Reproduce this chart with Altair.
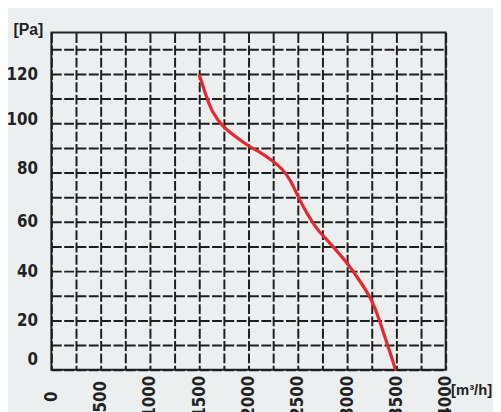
import altair as alt
import pandas as pd

# Fan curve
flow = [1500, 1580, 1630, 1730, 1863, 2000, 2130, 2247, 2347, 2430, 2497, 2563,
        2647, 2697, 2813, 3000, 3113, 3247, 3330, 3397, 3453, 3490]
pressure = [120, 110, 104.8, 99, 94.8, 90.8, 88.1, 84.8, 81.5, 76.8, 70.8, 65.5,
            60, 57, 52, 43.5, 37, 29, 20, 11.5, 5, 0]

x_ticks = [0, 250, 500, 750, 1000, 1250, 1500, 1750, 2000, 2250, 2500, 2750,
           3000, 3250, 3500, 3750, 4000]
y_ticks = [0, 10, 20, 30, 40, 50, 60, 70, 80, 90, 100, 110, 120, 130]

df = pd.DataFrame({"flow": flow, "pressure": pressure})

FONT = "DejaVu Sans Condensed, Liberation Sans, sans-serif"
TFONT = "Liberation Sans, Arial, sans-serif"
GRID = "#1e1e1e"
TXT = "#222222"

line = alt.Chart(df).mark_line(
    color="#e8262b", strokeWidth=3.2, interpolate="basis"
).encode(
    x=alt.X(
        "flow:Q",
        scale=alt.Scale(domain=[0, 4000], nice=False, zero=False),
        axis=alt.Axis(
            values=x_ticks,
            format="d",
            labelExpr="datum.value % 500 == 0 ? datum.label : ''",
            labelAngle=-90,
            labelAlign="center",
            labelBaseline="middle",
            labelPadding=27,
            labelFont=FONT,
            labelFontSize=17,
            labelFontWeight="bold",
            labelColor=TXT,
            labelOverlap=False,
            ticks=False,
            domain=False,
            grid=True,
            gridColor=GRID,
            gridWidth=2,
            gridDash=[10, 2.5],
            title="[m³/h]",
            titleAngle=0,
            titleX=405,
            titleY=20,
            titleAlign="left",
            titleBaseline="middle",
            titleFont=TFONT,
            titleFontSize=15,
            titleFontWeight="bold",
            titleColor=TXT,
        ),
    ),
    y=alt.Y(
        "pressure:Q",
        scale=alt.Scale(domain=[0, 137], nice=False, zero=False),
        axis=alt.Axis(
            values=y_ticks,
            labelExpr="datum.value % 20 == 0 && datum.value <= 120 ? datum.label : ''",
            labelOffset=alt.ExprRef("datum.value == 0 ? -10 : (datum.value >= 80 && datum.value <= 100 ? -4 : 0)"),
            labelPadding=14,
            labelFont=FONT,
            labelFontSize=17,
            labelFontWeight="bold",
            labelColor=TXT,
            labelBaseline="middle",
            labelOverlap=False,
            ticks=False,
            domain=False,
            grid=True,
            gridColor=GRID,
            gridWidth=2,
            gridDash=[10, 2.5],
            title="[Pa]",
            titleAngle=0,
            titleX=-39,
            titleY=-3,
            titleAlign="left",
            titleBaseline="middle",
            titleFont=TFONT,
            titleFontSize=16,
            titleFontWeight="bold",
            titleColor=TXT,
        ),
    ),
)

chart = line.properties(
    width=400,
    height=342,
    background="#eceff0",
    autosize=alt.AutoSizeParams(type="none"),
    padding={"left": 44, "top": 22, "right": 48, "bottom": 40},
).configure_view(
    stroke="#222222",
    strokeWidth=2,
)

chart.save("out.html", embed_options={"renderer": "svg", "actions": False})
